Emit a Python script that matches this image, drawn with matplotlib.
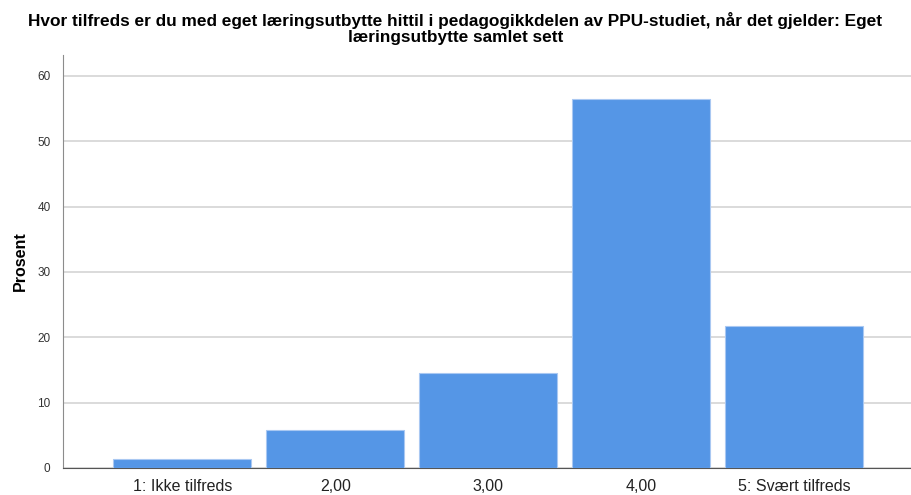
import matplotlib
matplotlib.use("Agg")
import matplotlib.pyplot as plt

categories = ["1: Ikke tilfreds", "2,00", "3,00", "4,00", "5: Svært tilfreds"]
values = [1.4, 5.8, 14.5, 56.5, 21.7]
yticks = [0, 10, 20, 30, 40, 50, 60]

plt.rcParams['font.family'] = ['Liberation Sans', 'DejaVu Sans']

fig = plt.figure(figsize=(9.11, 4.95), dpi=100)
ax = fig.add_axes([63/911, 1-468/495, 1-63/911, (468-55)/495])

x = list(range(len(categories)))
ax.bar(x, values, width=0.9, color='#5596E6', edgecolor='#A9C8F2', linewidth=0.8, zorder=3)

ax.set_xlim(-0.78, 4.765)
ax.set_ylim(0, 63.2)
ax.set_yticks(yticks)
ax.set_yticklabels([str(v) for v in yticks])
ax.set_xticks(x)
ax.set_xticklabels(categories)
ax.yaxis.grid(True, color='#d4d4d4', linewidth=1.2, zorder=0)
ax.set_axisbelow(True)

for s in ['top', 'right']:
    ax.spines[s].set_visible(False)
ax.spines['left'].set_color('#8c8c8c')
ax.spines['bottom'].set_color('#555555')
ax.tick_params(axis='y', length=0, labelsize=8.5, colors='#333333', pad=9)
ax.tick_params(axis='x', length=0, labelsize=11.5, colors='#222222', pad=8)

ax.set_ylabel('Prosent', fontsize=11.5, fontweight='bold', labelpad=7)
fig.suptitle('Hvor tilfreds er du med eget læringsutbytte hittil i pedagogikkdelen av PPU-studiet, når det gjelder: Eget\nlæringsutbytte samlet sett',
             fontsize=12.4, fontweight='bold', y=0.975, x=0.5, linespacing=1.02)

fig.savefig('out.png', dpi=100)
